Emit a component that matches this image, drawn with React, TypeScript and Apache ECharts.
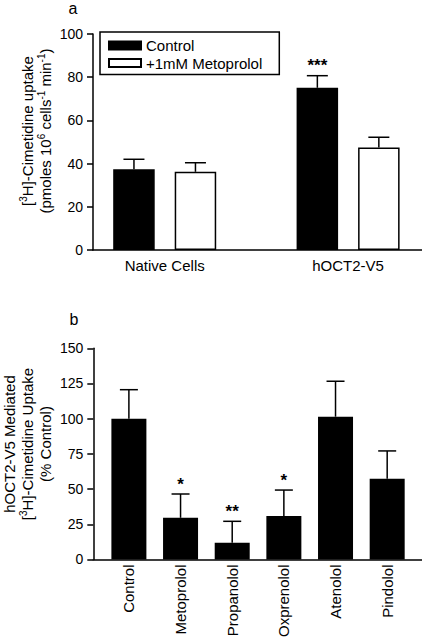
import React, { useEffect, useRef } from 'react';
import * as echarts from 'echarts';

// ---------- Panel a data ----------
const groupsA = ['Native Cells', 'hOCT2-V5'];
const controlA = [37.4, 75.1];
const controlSemA = [4.6, 5.6];
const metoA = [36.2, 47.5];
const metoSemA = [4.2, 4.7];
const controlStarsA = ['', '***'];
const metoStarsA = ['', ''];
const seriesNamesA = ['Control', '+1mM Metoprolol'];
const yTitleA = '[{sup|3}H]-Cimetidine uptake\n(pmoles 10{sup|6} cells{sup|-1} min{sup|-1})';

// ---------- Panel b data ----------
const drugsB = ['Control', 'Metoprolol', 'Propanolol', 'Oxprenolol', 'Atenolol', 'Pindolol'];
const uptakeB = [100, 29.6, 11.8, 30.8, 101.4, 57.4];
const semB = [20.6, 16.9, 15.3, 18.5, 25.2, 19.7];
const starsB = ['', '*', '**', '*', '', ''];
const yTitleB = 'hOCT2-V5 Mediated\n[{sup|3}H]-Cimetidine Uptake\n(% Control)';

const FONT = '"Liberation Sans", Arial, Helvetica, sans-serif';

const posA = groupsA.map((_, i) => i + 1);
const posB = drugsB.map((_, i) => i + 1);

function errorSeries(
  xAxisIndex: number,
  yAxisIndex: number,
  xs: number[],
  vals: number[],
  sems: number[],
  stars: string[],
  dx: number,
  capHalf: number
) {
  return {
    type: 'custom',
    xAxisIndex,
    yAxisIndex,
    z: 5,
    silent: true,
    clip: false,
    data: vals.map((v, i) => [xs[i], v, v + sems[i]]),
    renderItem: (params: any, api: any) => {
      const x = api.value(0);
      const v = api.value(1);
      const e = api.value(2);
      const top = api.coord([x, v]);
      const cap = api.coord([x, e]);
      const cx = top[0] + dx;
      const ls = { stroke: '#000', lineWidth: 1.5 };
      const children: any[] = [
        { type: 'line', shape: { x1: cx, y1: top[1], x2: cx, y2: cap[1] }, style: ls },
        { type: 'line', shape: { x1: cx - capHalf, y1: cap[1], x2: cx + capHalf, y2: cap[1] }, style: ls },
      ];
      const s = stars[params.dataIndex];
      if (s) {
        children.push({
          type: 'text',
          style: {
            text: s,
            x: cx,
            y: cap[1] - 10,
            align: 'center',
            verticalAlign: 'middle',
            fontSize: 17,
            fontWeight: 'bold',
            fontFamily: FONT,
            fill: '#000',
          },
        });
      }
      return { type: 'group', children };
    },
  };
}

const axisLine = { show: true, onZero: false, lineStyle: { color: '#000', width: 1.5 } };
const supRich = { sup: { fontSize: 10, verticalAlign: 'top', fontFamily: FONT, fill: '#000' } };

function yTitle(text: string, x: number, y: number) {
  return {
    type: 'text',
    x,
    y,
    rotation: Math.PI / 2,
    style: {
      text,
      fontSize: 15,
      lineHeight: 18,
      fontFamily: FONT,
      fill: '#000',
      align: 'center',
      verticalAlign: 'bottom',
      rich: supRich,
    },
  };
}

export default function App() {
  const ref = useRef<HTMLDivElement>(null);
  useEffect(() => {
    if (!ref.current) return;
    const chart = echarts.init(ref.current, null, { renderer: 'svg' });
    const barWA = 41.5;
    const gapA = 20;
    const offA = (barWA + gapA) / 2;
    const option: any = {
      animation: false,
      backgroundColor: '#fff',
      textStyle: { fontFamily: FONT, color: '#000' },
      grid: [
        { left: 93, top: 34, right: 0, height: 216 },
        { left: 93.3, top: 348.3, right: 0, height: 216 },
      ],
      legend: {
        data: seriesNamesA,
        orient: 'vertical',
        left: 100,
        top: 32,
        borderColor: '#000',
        borderWidth: 1.5,
        padding: [6, 17, 4, 8],
        itemGap: 2.5,
        itemWidth: 32,
        itemHeight: 8,
        icon: 'rect',
        textStyle: { fontSize: 15, color: '#000', fontFamily: FONT },
      },
      xAxis: [
        {
          type: 'value',
          gridIndex: 0,
          min: 0.609,
          max: 2.403,
          axisLine,
          axisTick: { show: false },
          splitLine: { show: false },
          axisLabel: {
            customValues: posA,
            formatter: (v: number) => groupsA[Math.round(v) - 1] ?? '',
            fontSize: 15,
            color: '#000',
            margin: 8,
          },
        },
        {
          type: 'value',
          gridIndex: 1,
          min: 0.311,
          max: 6.674,
          axisLine,
          axisTick: { show: false },
          splitLine: { show: false },
          axisLabel: {
            customValues: posB,
            formatter: (v: number) => drugsB[Math.round(v) - 1] ?? '',
            fontSize: 15,
            color: '#000',
            rotate: 90,
            margin: 5,
          },
        },
      ],
      yAxis: [
        {
          type: 'value',
          gridIndex: 0,
          min: 0,
          max: 100,
          interval: 20,
          axisLine,
          axisTick: { show: true, length: 6, lineStyle: { color: '#000', width: 1.5 } },
          splitLine: { show: false },
          axisLabel: { fontSize: 14, color: '#000', margin: 10 },
        },
        {
          type: 'value',
          gridIndex: 1,
          min: 0,
          max: 150,
          interval: 25,
          axisLine,
          axisTick: { show: true, length: 6, lineStyle: { color: '#000', width: 1.5 } },
          splitLine: { show: false },
          axisLabel: { fontSize: 14, color: '#000', margin: 10 },
        },
      ],
      graphic: [
        { type: 'text', x: 73, y: 8, style: { text: 'a', fontSize: 16, fontFamily: FONT, fill: '#000', align: 'center', verticalAlign: 'middle' } },
        { type: 'text', x: 74, y: 319, style: { text: 'b', fontSize: 16, fontFamily: FONT, fill: '#000', align: 'center', verticalAlign: 'middle' } },
        yTitle(yTitleA, 54.3, 131),
        yTitle(yTitleB, 54.3, 444),
      ],
      series: [
        {
          name: seriesNamesA[0],
          type: 'bar',
          xAxisIndex: 0,
          yAxisIndex: 0,
          barWidth: barWA,
          barGap: (gapA / barWA) * 100 + '%',
          itemStyle: { color: '#000', borderColor: '#000', borderWidth: 1.5 },
          data: controlA.map((v, i) => [posA[i], v]),
        },
        {
          name: seriesNamesA[1],
          type: 'bar',
          xAxisIndex: 0,
          yAxisIndex: 0,
          barWidth: barWA,
          barGap: (gapA / barWA) * 100 + '%',
          itemStyle: { color: '#fff', borderColor: '#000', borderWidth: 1.5 },
          data: metoA.map((v, i) => [posA[i], v]),
        },
        errorSeries(0, 0, posA, controlA, controlSemA, controlStarsA, -offA, 10.5),
        errorSeries(0, 0, posA, metoA, metoSemA, metoStarsA, offA, 10.5),
        {
          name: 'uptake',
          type: 'bar',
          xAxisIndex: 1,
          yAxisIndex: 1,
          barWidth: 35,
          itemStyle: { color: '#000' },
          data: uptakeB.map((v, i) => [posB[i], v]),
        },
        errorSeries(1, 1, posB, uptakeB, semB, starsB, 0, 9),
      ],
    };
    chart.setOption(option);
    return () => chart.dispose();
  }, []);
  return (
    <div
      ref={ref}
      style={{ position: 'absolute', left: 0, top: 0, width: 422, height: 640, background: '#fff' }}
    />
  );
}
